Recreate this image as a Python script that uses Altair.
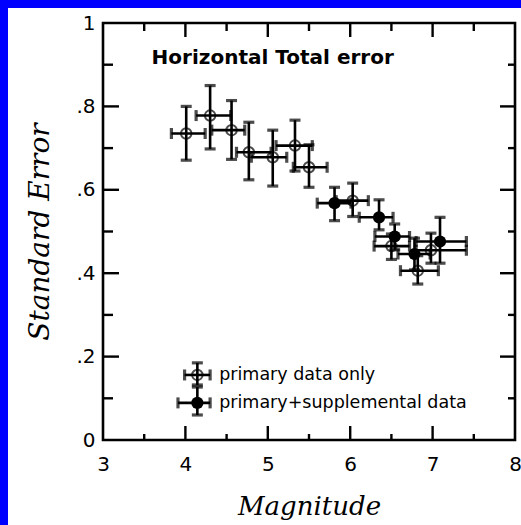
import altair as alt
import pandas as pd
import jinja2

# ---- data ----
mag    = [4.01, 4.30, 4.56, 4.77, 5.06, 5.33, 5.50, 6.03, 6.50, 6.82, 6.98,
          5.81, 6.35, 6.54, 6.78, 7.09]
err    = [0.735, 0.778, 0.743, 0.690, 0.678, 0.706, 0.654, 0.574, 0.465, 0.406, 0.455,
          0.568, 0.534, 0.488, 0.446, 0.476]
mag_lo = [3.83, 4.13, 4.32, 4.62, 4.80, 5.10, 5.31, 5.83, 6.29, 6.61, 6.80,
          5.60, 6.11, 6.30, 6.58, 6.80]
mag_hi = [4.24, 4.55, 4.72, 5.04, 5.23, 5.54, 5.72, 6.22, 6.72, 7.07, 7.41,
          6.01, 6.52, 6.72, 6.97, 7.41]
err_lo = [0.671, 0.698, 0.673, 0.624, 0.609, 0.645, 0.606, 0.536, 0.433, 0.374, 0.424,
          0.526, 0.504, 0.456, 0.408, 0.424]
err_hi = [0.800, 0.850, 0.814, 0.762, 0.743, 0.767, 0.708, 0.616, 0.494, 0.442, 0.496,
          0.606, 0.576, 0.518, 0.484, 0.534]
kind   = ["primary"] * 11 + ["supplemental"] * 5

# legend entries (drawn as marks)
leg_label  = ["primary data only", "primary+supplemental data"]
leg_kind   = ["primary", "supplemental"]
leg_mag    = [4.145, 4.145]
leg_err    = [0.156, 0.089]
leg_mag_lo = [3.99, 3.91]
leg_mag_hi = [4.30, 4.30]
leg_err_lo = [0.132, 0.060]
leg_err_hi = [0.185, 0.127]
leg_text_x = [4.41, 4.41]

title_text = ["Horizontal Total error"]
title_x = [3.59]
title_y = [0.916]

x_ticks = [3, 4, 5, 6, 7, 8]
y_ticks = [0, 0.2, 0.4, 0.6, 0.8, 1.0]
x_major = [4, 5, 6, 7]
x_minor = [3.5, 4.5, 5.5, 6.5, 7.5]
y_major = [0.2, 0.4, 0.6, 0.8]
y_minor = [0.1, 0.3, 0.5, 0.7, 0.9]

W, H = 412, 417

pts = pd.DataFrame(dict(mag=mag + leg_mag, err=err + leg_err,
                        mag_lo=mag_lo + leg_mag_lo, mag_hi=mag_hi + leg_mag_hi,
                        err_lo=err_lo + leg_err_lo, err_hi=err_hi + leg_err_hi,
                        kind=kind + leg_kind))

xs = alt.Scale(domain=[3, 8], nice=False, zero=False)
ys = alt.Scale(domain=[0, 1], nice=False, zero=False)

X = lambda f: alt.X(f, type="quantitative", scale=xs, title="Magnitude",
                    axis=alt.Axis(values=x_ticks, ticks=False, domain=False, grid=False,
                                  labelFont="DejaVu Sans", labelFontSize=20, labelColor="black",
                                  labelPadding=14, labelFlush=False,
                                  titleFont="DejaVu Serif", titleFontStyle="italic",
                                  titleFontWeight="normal", titleFontSize=26, titleColor="black",
                                  titleY=74, titleBaseline="alphabetic"))
Y = lambda f: alt.Y(f, type="quantitative", scale=ys, title="Standard Error",
                    axis=alt.Axis(values=y_ticks, ticks=False, domain=False, grid=False,
                                  labelExpr="datum.value == 0 ? '0' : datum.value == 1 ? '1' : replace(format(datum.value, '.1f'), '0.', '.')",
                                  labelFont="DejaVu Sans", labelFontSize=20, labelColor="black",
                                  labelPadding=8, labelFlush=False,
                                  titleFont="DejaVu Serif", titleFontStyle="italic",
                                  titleFontWeight="normal", titleFontSize=28, titleColor="black",
                                  titleX=-63, titleY=H / 2, titleBaseline="middle", titleAngle=-90))

base = alt.Chart(pts)
LW = 2.6
CAP = dict(color="black", size=11, thickness=3.2)

hbar = base.mark_rule(color="black", strokeWidth=LW).encode(x=X("mag_lo"), x2="mag_hi", y=Y("err"))
vbar = base.mark_rule(color="black", strokeWidth=LW).encode(x=X("mag"), y=Y("err_lo"), y2="err_hi")
cap_l = base.mark_tick(orient="vertical", **CAP).encode(x=X("mag_lo"), y=Y("err"))
cap_r = base.mark_tick(orient="vertical", **CAP).encode(x=X("mag_hi"), y=Y("err"))
cap_b = base.mark_tick(orient="horizontal", **CAP).encode(x=X("mag"), y=Y("err_lo"))
cap_t = base.mark_tick(orient="horizontal", **CAP).encode(x=X("mag"), y=Y("err_hi"))

open_pts = base.transform_filter(alt.datum.kind == "primary").mark_point(
    shape="circle", filled=False, color="black", strokeWidth=2, size=110
).encode(x=X("mag"), y=Y("err"))
fill_pts = base.transform_filter(alt.datum.kind == "supplemental").mark_circle(
    color="black", opacity=1, size=150
).encode(x=X("mag"), y=Y("err"))

legend_txt = alt.Chart(pd.DataFrame(dict(label=leg_label, x=leg_text_x, y=leg_err))).mark_text(
    align="left", baseline="middle", font="DejaVu Sans", fontSize=17.5, color="black"
).encode(x=X("x"), y=Y("y"), text="label:N")

title_mark = alt.Chart(pd.DataFrame(dict(t=title_text, x=title_x, y=title_y))).mark_text(
    align="left", baseline="middle", font="DejaVu Sans", fontSize=20, fontWeight="bold", color="black"
).encode(x=X("x"), y=Y("y"), text="t:N")

# inward tick marks on all four sides
xmaj = alt.Chart(pd.DataFrame(dict(v=x_major)))
xmin = alt.Chart(pd.DataFrame(dict(v=x_minor)))
ymaj = alt.Chart(pd.DataFrame(dict(v=y_major)))
ymin = alt.Chart(pd.DataFrame(dict(v=y_minor)))
tk = dict(color="black", strokeWidth=2.4)
ticks = [
    xmaj.mark_rule(**tk).encode(x=X("v"), y=alt.value(H), y2=alt.value(H - 14)),
    xmin.mark_rule(**tk).encode(x=X("v"), y=alt.value(H), y2=alt.value(H - 6)),
    xmaj.mark_rule(**tk).encode(x=X("v"), y=alt.value(0), y2=alt.value(14)),
    xmin.mark_rule(**tk).encode(x=X("v"), y=alt.value(0), y2=alt.value(8)),
    ymaj.mark_rule(**tk).encode(y=Y("v"), x=alt.value(0), x2=alt.value(16)),
    ymin.mark_rule(**tk).encode(y=Y("v"), x=alt.value(0), x2=alt.value(10)),
    ymaj.mark_rule(**tk).encode(y=Y("v"), x=alt.value(W), x2=alt.value(W - 15)),
    ymin.mark_rule(**tk).encode(y=Y("v"), x=alt.value(W), x2=alt.value(W - 7)),
]

chart = alt.layer(
    *ticks, hbar, vbar, cap_l, cap_r, cap_b, cap_t, open_pts, fill_pts, legend_txt, title_mark
).properties(
    width=W, height=H,
    padding={"left": 95, "top": 15, "right": 8, "bottom": 85},
    autosize=alt.AutoSizeParams(type="none"),
    background="white",
).configure_view(stroke="black", strokeWidth=2.6)

TEMPLATE = jinja2.Template("""<!DOCTYPE html>
<html>
<head>
<meta charset="utf-8">
<style>
html { background: #0000ff; overflow: hidden; }
body { margin: 8px 0 0 8px; width: 560px; background: #0000ff; }
#{{ output_div }} { line-height: 0; }
</style>
<script type="text/javascript" src="{{ base_url }}/vega@{{ vega_version }}"></script>
<script type="text/javascript" src="{{ base_url }}/vega-lite@{{ vegalite_version }}"></script>
<script type="text/javascript" src="{{ base_url }}/vega-embed@{{ vegaembed_version }}"></script>
</head>
<body>
<div id="{{ output_div }}"></div>
<script type="text/javascript">
vegaEmbed("#{{ output_div }}", {{ spec }}, {{ embed_options }}).catch(console.error);
</script>
</body>
</html>""")

try:
    chart.save("out.html", embed_options={"renderer": "svg", "actions": False}, template=TEMPLATE)
except TypeError:
    chart.save("out.html", embed_options={"renderer": "svg", "actions": False})
